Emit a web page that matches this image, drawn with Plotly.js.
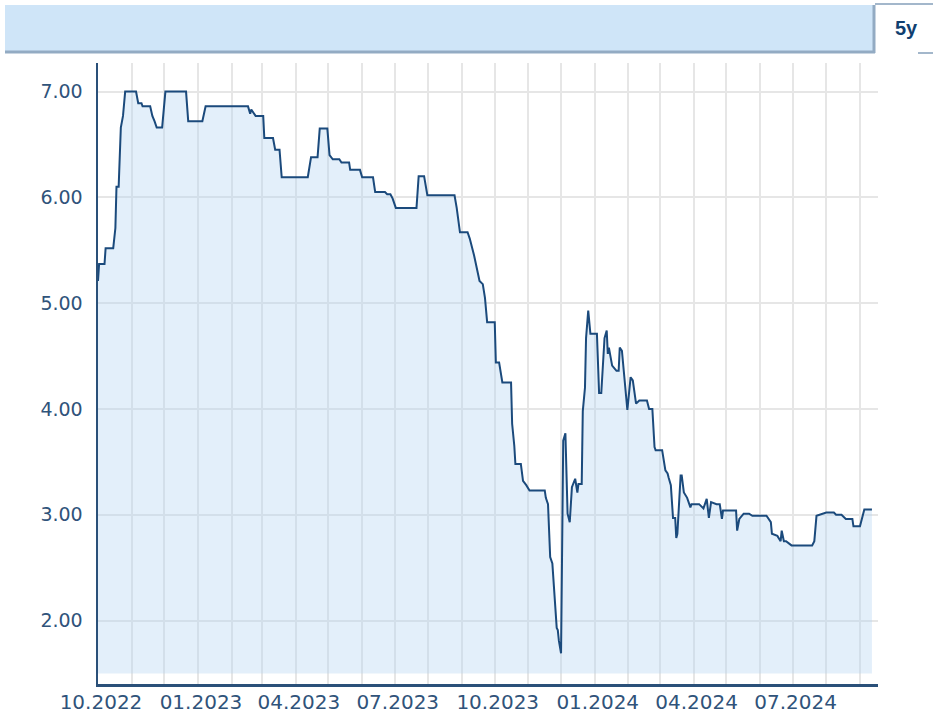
<!DOCTYPE html>
<html>
<head>
<meta charset="utf-8">
<script src="https://cdn.plot.ly/plotly-3.0.1.min.js"></script>
<style>
  html, body { margin: 0; padding: 0; background: #ffffff; }
  #chart { width: 933px; height: 715px; }
</style>
</head>
<body>
<div id="chart"></div>
<script>
// ---- Data ----
const dates = [
  "2022-10-01","2022-10-02","2022-10-07","2022-10-08","2022-10-15","2022-10-17","2022-10-18","2022-10-20","2022-10-21","2022-10-22",
  "2022-10-24","2022-10-26","2022-11-05","2022-11-07","2022-11-10","2022-11-11","2022-11-18","2022-11-20","2022-11-22","2022-11-24",
  "2022-11-29","2022-12-02","2022-12-21","2022-12-23","2023-01-05","2023-01-08","2023-02-16","2023-02-18","2023-02-19","2023-02-23",
  "2023-03-02","2023-03-03","2023-03-11","2023-03-13","2023-03-17","2023-03-19","2023-04-12","2023-04-15","2023-04-21","2023-04-23",
  "2023-04-30","2023-05-02","2023-05-05","2023-05-11","2023-05-13","2023-05-20","2023-05-21","2023-05-30","2023-06-01","2023-06-11",
  "2023-06-13","2023-06-22","2023-06-24","2023-06-27","2023-06-29","2023-07-02","2023-07-21","2023-07-23","2023-07-28","2023-07-31",
  "2023-08-25","2023-08-27","2023-08-30","2023-09-06","2023-09-08","2023-09-11","2023-09-12","2023-09-17","2023-09-20","2023-09-22",
  "2023-09-24","2023-10-01","2023-10-02","2023-10-05","2023-10-08","2023-10-16","2023-10-17","2023-10-19","2023-10-20","2023-10-25",
  "2023-10-26","2023-10-27","2023-10-30","2023-11-02","2023-11-16","2023-11-17","2023-11-19","2023-11-21","2023-11-23","2023-11-27",
  "2023-11-28","2023-11-29","2023-12-01","2023-12-03","2023-12-05","2023-12-07","2023-12-09","2023-12-11","2023-12-14","2023-12-16",
  "2023-12-17","2023-12-20","2023-12-21","2023-12-23","2023-12-24","2023-12-26","2023-12-28","2024-01-03","2024-01-05","2024-01-07",
  "2024-01-10","2024-01-12","2024-01-13","2024-01-14","2024-01-17","2024-01-21","2024-01-23","2024-01-24","2024-01-26","2024-01-30",
  "2024-01-31","2024-02-03","2024-02-05","2024-02-08","2024-02-11","2024-02-18","2024-02-20","2024-02-23","2024-02-25","2024-02-26",
  "2024-03-03","2024-03-06","2024-03-08","2024-03-09","2024-03-11","2024-03-13","2024-03-15","2024-03-16","2024-03-17","2024-03-20",
  "2024-03-21","2024-03-23","2024-03-26","2024-03-29","2024-03-30","2024-04-06","2024-04-10","2024-04-13","2024-04-15","2024-04-17",
  "2024-04-22","2024-04-25","2024-04-27","2024-04-28","2024-05-10","2024-05-11","2024-05-13","2024-05-17","2024-05-22","2024-05-25",
  "2024-06-07","2024-06-11","2024-06-12","2024-06-17","2024-06-20","2024-06-21","2024-06-23","2024-06-25","2024-06-30","2024-07-19",
  "2024-07-21","2024-07-23","2024-07-30","2024-08-01","2024-08-08","2024-08-10","2024-08-15","2024-08-19","2024-08-25","2024-08-26",
  "2024-09-01","2024-09-03","2024-09-05","2024-09-12"
];
const values = [
  5.21,5.37,5.37,5.52,5.52,5.71,6.10,6.10,6.38,6.66,
  6.77,7.00,7.00,6.89,6.89,6.86,6.86,6.77,6.72,6.66,
  6.66,7.00,7.00,6.72,6.72,6.86,6.86,6.79,6.83,6.77,
  6.77,6.56,6.56,6.45,6.45,6.19,6.19,6.38,6.38,6.65,
  6.65,6.40,6.36,6.36,6.33,6.33,6.26,6.26,6.19,6.19,
  6.05,6.05,6.03,6.03,5.99,5.90,5.90,6.20,6.20,6.02,
  6.02,5.90,5.67,5.67,5.61,5.50,5.45,5.21,5.18,5.05,
  4.82,4.82,4.44,4.44,4.25,4.25,3.86,3.65,3.48,3.48,
  3.39,3.32,3.28,3.23,3.23,3.16,3.10,2.60,2.54,1.93,
  1.91,1.81,1.69,3.70,3.77,3.01,2.93,3.26,3.34,3.21,
  3.29,3.29,3.98,4.20,4.67,4.93,4.71,4.71,4.15,4.15,
  4.67,4.74,4.52,4.58,4.41,4.36,4.36,4.58,4.55,4.15,
  3.99,4.30,4.27,4.05,4.08,4.08,4.00,4.00,3.64,3.61,
  3.61,3.42,3.39,3.35,3.28,2.97,2.97,2.78,2.82,3.37,
  3.37,3.21,3.16,3.07,3.10,3.10,3.06,3.15,2.97,3.12,
  3.10,3.10,2.96,3.04,3.04,2.85,2.96,3.01,3.01,2.99,
  2.99,2.93,2.82,2.80,2.75,2.85,2.75,2.75,2.71,2.71,
  2.75,2.99,3.01,3.02,3.02,3.00,3.00,2.96,2.96,2.89,
  2.89,2.96,3.05,3.05
];
const fillBase = 1.5;                       // lower edge of the shaded area
const yTickVals = [2, 3, 4, 5, 6, 7];
const xRange = ["2022-10-01", "2024-09-17 14:00"];
const yRange = [1.40, 7.27];
const periodLabel = "5y";

// ---- Styling ----
const LINE = "#1b4a7c";
const GRID = "#e6e6e6";
const AXIS = "#2a5079";
const YFONT = { family: "DejaVu Sans, Verdana, sans-serif", size: 19, color: "#30537a" };
const XFONT = { family: "DejaVu Sans, Verdana, sans-serif", size: 20, color: "#30537a" };

const traces = [
  {
    x: dates, y: dates.map(() => fillBase),
    type: "scatter", mode: "lines",
    line: { width: 0, color: "rgba(0,0,0,0)" },
    hoverinfo: "skip", showlegend: false
  },
  {
    x: dates, y: values,
    type: "scatter", mode: "lines",
    line: { color: LINE, width: 2 },
    fill: "tonexty", fillcolor: "rgba(178,210,240,0.36)",
    showlegend: false
  }
];

// helper converting pixel positions of the frame decoration into paper coords
const L = 98, R = 878, T = 63, B = 684;
const px = X => (X - L) / (R - L);
const py = Y => (B - Y) / (B - T);

const layout = {
  width: 933, height: 715,
  margin: { l: L, r: 933 - R, t: T, b: 715 - B, pad: 0 },
  paper_bgcolor: "#ffffff", plot_bgcolor: "#ffffff",
  showlegend: false,
  xaxis: {
    type: "date",
    range: xRange,
    tick0: "2022-10-01", dtick: "M3",
    tickformat: "%m.%Y",
    ticks: "",
    ticklabelstandoff: -2,
    ticklabelshift: 3,
    tickfont: XFONT,
    showgrid: true, gridcolor: GRID, gridwidth: 2,
    minor: { dtick: "M1", tick0: "2022-10-01", showgrid: true, gridcolor: GRID, gridwidth: 2, ticks: "" },
    showline: true, linecolor: AXIS, linewidth: 2.5,
    zeroline: false, fixedrange: true
  },
  yaxis: {
    range: yRange,
    tickvals: yTickVals,
    tickformat: ".2f",
    ticks: "outside", ticklen: 9, tickcolor: "rgba(0,0,0,0)",
    tickfont: YFONT,
    showgrid: true, gridcolor: GRID, gridwidth: 2,
    showline: true, linecolor: AXIS, linewidth: 2.5,
    zeroline: false, fixedrange: true
  },
  shapes: [
    { type: "rect", xref: "paper", yref: "paper", x0: px(5), x1: px(873), y0: py(51), y1: py(5),
      fillcolor: "#cfe5f8", line: { width: 0 }, layer: "below" },
    { type: "line", xref: "paper", yref: "paper", x0: px(874), x1: px(874), y0: py(53), y1: py(5),
      line: { color: "#93abc3", width: 3 } },
    { type: "line", xref: "paper", yref: "paper", x0: px(5), x1: px(875), y0: py(52), y1: py(52),
      line: { color: "#93abc3", width: 3 } },
    { type: "line", xref: "paper", yref: "paper", x0: px(875), x1: px(933), y0: py(4), y1: py(4),
      line: { color: "#a3b7cb", width: 2 } },
    { type: "line", xref: "paper", yref: "paper", x0: px(918), x1: px(933), y0: py(53), y1: py(53),
      line: { color: "#a3b7cb", width: 2 } }
  ],
  annotations: [
    { xref: "paper", yref: "paper", x: px(906), y: py(28), xanchor: "center", yanchor: "middle",
      text: "<b>" + periodLabel + "</b>", showarrow: false,
      font: { family: "Liberation Sans, Arial, sans-serif", size: 20, color: "#103f70" } }
  ]
};

Plotly.newPlot("chart", traces, layout, { displayModeBar: false, staticPlot: true });
</script>
</body>
</html>
